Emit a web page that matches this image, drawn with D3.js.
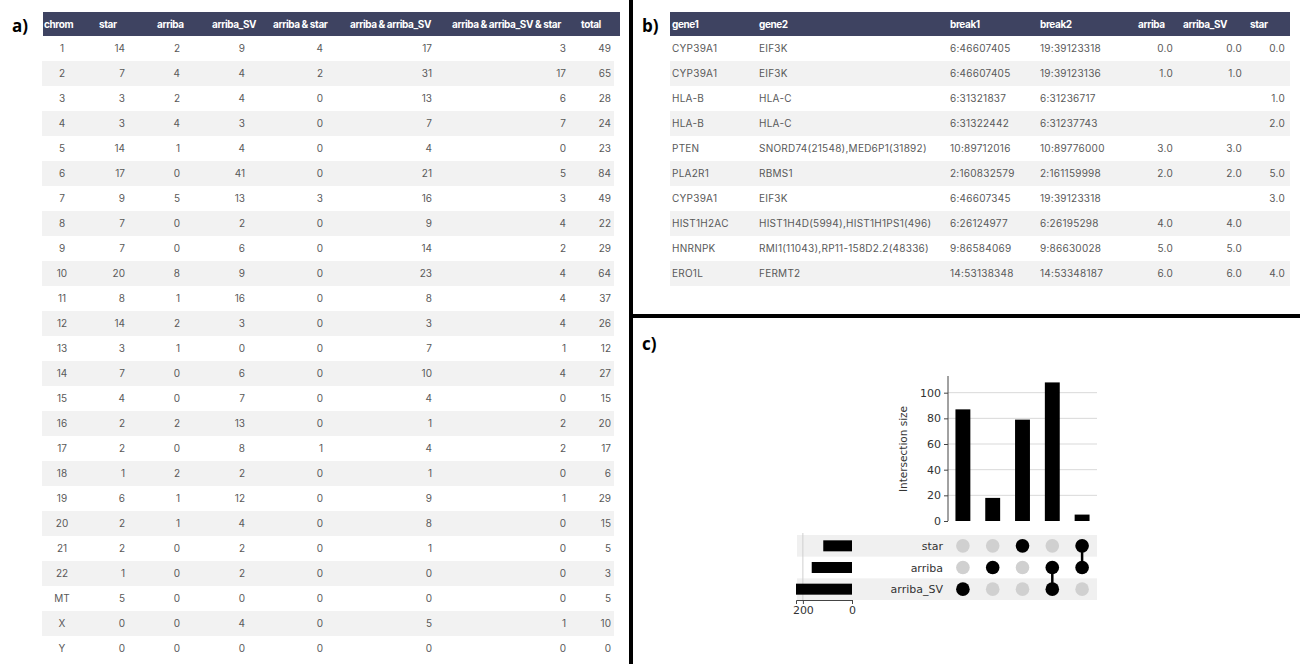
<!DOCTYPE html>
<html><head><meta charset="utf-8">
<script src="https://cdn.jsdelivr.net/npm/d3@7"></script>
<style>
html,body{margin:0;padding:0;background:#fff;}
svg{display:block;}
</style></head>
<body>
<svg id="chart" width="1300" height="664"></svg>
<script>
// ---------- Panel a data ----------
const chroms = ["1","2","3","4","5","6","7","8","9","10","11","12","13","14","15","16","17","18","19","20","21","22","MT","X","Y"];
const starCounts = [14,7,3,3,14,17,9,7,7,20,8,14,3,7,4,2,2,1,6,2,2,1,5,0,0];
const arribaCounts = [2,4,2,4,1,0,5,0,0,8,1,2,1,0,0,2,0,2,1,1,0,0,0,0,0];
const arribaSVCounts = [9,4,4,3,4,41,13,2,6,9,16,3,0,6,7,13,8,2,12,4,2,2,0,4,0];
const arribaStarCounts = [4,2,0,0,0,0,3,0,0,0,0,0,0,0,0,0,1,0,0,0,0,0,0,0,0];
const arribaArribaSVCounts = [17,31,13,7,4,21,16,9,14,23,8,3,7,10,4,1,4,1,9,8,1,0,0,5,0];
const allThreeCounts = [3,17,6,7,0,5,3,4,2,4,4,4,1,4,0,2,2,0,1,0,0,0,0,1,0];
const totalCounts = [49,65,28,24,23,84,49,22,29,64,37,26,12,27,15,20,17,6,29,15,5,3,5,10,0];
const tableAHeaders = ["chrom","star","arriba","arriba_SV","arriba & star","arriba & arriba_SV","arriba & arriba_SV & star","total"];

// ---------- Panel b data ----------
const gene1 = ["CYP39A1","CYP39A1","HLA-B","HLA-B","PTEN","PLA2R1","CYP39A1","HIST1H2AC","HNRNPK","ERO1L"];
const gene2 = ["EIF3K","EIF3K","HLA-C","HLA-C","SNORD74(21548),MED6P1(31892)","RBMS1","EIF3K","HIST1H4D(5994),HIST1H1PS1(496)","RMI1(11043),RP11-158D2.2(48336)","FERMT2"];
const break1 = ["6:46607405","6:46607405","6:31321837","6:31322442","10:89712016","2:160832579","6:46607345","6:26124977","9:86584069","14:53138348"];
const break2 = ["19:39123318","19:39123136","6:31236717","6:31237743","10:89776000","2:161159998","19:39123318","6:26195298","9:86630028","14:53348187"];
const bArriba = ["0.0","1.0","","","3.0","2.0","","4.0","5.0","6.0"];
const bArribaSV = ["0.0","1.0","","","3.0","2.0","","4.0","5.0","6.0"];
const bStar = ["0.0","","1.0","2.0","","5.0","3.0","","","4.0"];
const tableBHeaders = ["gene1","gene2","break1","break2","arriba","arriba_SV","star"];

// ---------- Panel c data ----------
const setNames = ["star","arriba","arriba_SV"];
const setSizes = [117,164,228];
const intersectionSizes = [87,18,79,108,5];
const intersectionMembers = [["arriba_SV"],["arriba"],["star"],["arriba","arriba_SV"],["star","arriba"]];
const intersectionTicks = [0,20,40,60,80,100];
const setSizeTicks = [200,0];

const svg = d3.select("#chart");
const HEAD = "#3e4361";
const STRIPE = "#f2f2f2";
const TXT = "#595959";
const TFONT = "Inter, 'Noto Sans', sans-serif";

// panel labels
function panelLabel(t,x,y){
  svg.append("text").attr("x",x).attr("y",y).text(t)
    .attr("font-family","'Open Sans', 'Noto Sans', sans-serif").attr("font-weight","700")
    .attr("font-size",17).attr("fill","#000");
}
panelLabel("a)",12,32);
panelLabel("b)",642,32);
panelLabel("c)",642,350);

// ---------- Table a ----------
(function(){
  const y = d3.scaleBand().domain(d3.range(chroms.length)).range([36,36+25*chroms.length]);
  const g = svg.append("g");
  g.selectAll("rect.stripe").data(d3.range(chroms.length).filter(i=>i%2===1)).join("rect")
    .attr("x",42).attr("width",572).attr("y",i=>y(i)).attr("height",y.bandwidth()).attr("fill",STRIPE);
  g.append("rect").attr("x",43).attr("y",12).attr("width",577).attr("height",24).attr("fill",HEAD);
  const headX = [44,99,157,212,273,350,452,581];
  g.selectAll("text.h").data(tableAHeaders).join("text")
    .attr("x",(d,i)=>headX[i]).attr("y",28).text(d=>d)
    .attr("font-family",TFONT).attr("font-weight","700").attr("font-size",10)
    .attr("letter-spacing","-0.4").attr("fill","#fff");
  const cols = [
    {v:chroms, x:62, a:"middle"},
    {v:starCounts, x:125, a:"end"},
    {v:arribaCounts, x:180, a:"end"},
    {v:arribaSVCounts, x:245, a:"end"},
    {v:arribaStarCounts, x:323, a:"end"},
    {v:arribaArribaSVCounts, x:432, a:"end"},
    {v:allThreeCounts, x:566, a:"end"},
    {v:totalCounts, x:611, a:"end"}
  ];
  cols.forEach(c=>{
    g.append("g").selectAll("text").data(c.v).join("text")
      .attr("x",c.x).attr("y",(d,i)=>y(i)+y.bandwidth()/2+3.6).text(d=>d)
      .attr("text-anchor",c.a).attr("font-family",TFONT).attr("font-size",10).attr("fill",TXT);
  });
})();

// ---------- Table b ----------
(function(){
  const n = gene1.length;
  const y = d3.scaleBand().domain(d3.range(n)).range([36,36+25*n]);
  const g = svg.append("g");
  g.selectAll("rect.stripe").data(d3.range(n).filter(i=>i%2===1)).join("rect")
    .attr("x",670).attr("width",620).attr("y",i=>y(i)).attr("height",y.bandwidth()).attr("fill",STRIPE);
  g.append("rect").attr("x",670).attr("y",12).attr("width",620).attr("height",24).attr("fill",HEAD);
  const headX = [672,759,950,1040,1138,1183,1250];
  g.selectAll("text.h").data(tableBHeaders).join("text")
    .attr("x",(d,i)=>headX[i]).attr("y",28).text(d=>d)
    .attr("font-family",TFONT).attr("font-weight","700").attr("font-size",10)
    .attr("letter-spacing","-0.4").attr("fill","#fff");
  const cols = [
    {v:gene1, x:672, a:"start"},
    {v:gene2, x:759, a:"start"},
    {v:break1, x:950, a:"start"},
    {v:break2, x:1040, a:"start"},
    {v:bArriba, x:1173, a:"end"},
    {v:bArribaSV, x:1242, a:"end"},
    {v:bStar, x:1285, a:"end"}
  ];
  cols.forEach(c=>{
    g.append("g").selectAll("text").data(c.v).join("text")
      .attr("x",c.x).attr("y",(d,i)=>y(i)+y.bandwidth()/2+3.6).text(d=>d)
      .attr("text-anchor",c.a).attr("font-family",TFONT).attr("font-size",10)
      .attr("letter-spacing","0.25").attr("fill",TXT);
  });
})();

// dividers
svg.append("rect").attr("x",629).attr("y",0).attr("width",4).attr("height",664).attr("fill","#000");
svg.append("rect").attr("x",629).attr("y",314).attr("width",671).attr("height",4).attr("fill","#000");

// ---------- Panel c: UpSet ----------
(function(){
  const UF = "'DejaVu Sans', sans-serif";
  const g = svg.append("g");
  const x = d3.scaleBand().domain(d3.range(intersectionSizes.length)).range([948,1097]).paddingInner(0.5).paddingOuter(0.25);
  const yI = d3.scaleLinear().domain([0,113]).range([521,376]);
  const rowY = d3.scaleBand().domain(setNames).range([535,600]);
  const sx = d3.scaleLinear().domain([0,228]).range([852,796]);

  g.append("g").selectAll("line").data(intersectionTicks.filter(t=>t>0)).join("line")
    .attr("x1",948).attr("x2",1097).attr("y1",d=>yI(d)).attr("y2",d=>yI(d))
    .attr("stroke","#d9d9d9").attr("stroke-width",1);
  g.append("g").selectAll("rect").data(intersectionSizes).join("rect")
    .attr("x",(d,i)=>x(i)).attr("width",x.bandwidth())
    .attr("y",d=>yI(d)).attr("height",d=>yI(0)-yI(d)).attr("fill","#000");
  const ax = g.append("g").attr("transform","translate(948,0)")
    .call(d3.axisLeft(yI).tickValues(intersectionTicks).tickSize(4).tickPadding(3));
  ax.select(".domain").attr("stroke","#444").attr("d","M0,376V521");
  ax.selectAll(".tick line").attr("stroke","#444");
  ax.selectAll("text").attr("font-family",UF).attr("font-size",11).attr("fill","#333");
  g.append("text").attr("transform","translate(907,449) rotate(-90)").attr("text-anchor","middle")
    .text("Intersection size").attr("font-family",UF).attr("font-size",10.5).attr("fill","#333");

  g.append("g").selectAll("rect").data(setNames.filter((d,i)=>i%2===0)).join("rect")
    .attr("x",797).attr("width",300).attr("y",d=>rowY(d)).attr("height",rowY.bandwidth())
    .attr("fill","#f0f0f0");
  g.append("line").attr("x1",sx(200)).attr("x2",sx(200)).attr("y1",533).attr("y2",600)
    .attr("stroke","#cfcfcf");
  g.append("g").selectAll("rect").data(setSizes).join("rect")
    .attr("x",d=>sx(d)).attr("width",d=>sx(0)-sx(d))
    .attr("y",(d,i)=>rowY(setNames[i])+rowY.bandwidth()/2-5.5).attr("height",11).attr("fill","#000");
  const sax = g.append("g").attr("transform","translate(0,600)")
    .call(d3.axisBottom(sx).tickValues(setSizeTicks).tickSize(4).tickPadding(2));
  sax.select(".domain").attr("stroke","#444");
  sax.selectAll(".tick line").attr("stroke","#444");
  sax.selectAll("text").attr("font-family",UF).attr("font-size",11).attr("fill","#333");
  g.append("g").selectAll("text").data(setNames).join("text")
    .attr("x",943).attr("y",d=>rowY(d)+rowY.bandwidth()/2+4).attr("text-anchor","end")
    .text(d=>d).attr("font-family",UF).attr("font-size",11).attr("fill","#333");
  intersectionMembers.forEach((mem,i)=>{
    const cx = x(i)+x.bandwidth()/2;
    const ys = mem.map(s=>rowY(s)+rowY.bandwidth()/2);
    if(ys.length>1){
      g.append("line").attr("x1",cx).attr("x2",cx).attr("y1",d3.min(ys)).attr("y2",d3.max(ys))
        .attr("stroke","#000").attr("stroke-width",2.5);
    }
    g.append("g").selectAll("circle").data(setNames).join("circle")
      .attr("cx",cx).attr("cy",s=>rowY(s)+rowY.bandwidth()/2).attr("r",6.8)
      .attr("fill",s=>mem.includes(s)?"#000":"#d0d0d0");
  });
})();
</script>
</body></html>
